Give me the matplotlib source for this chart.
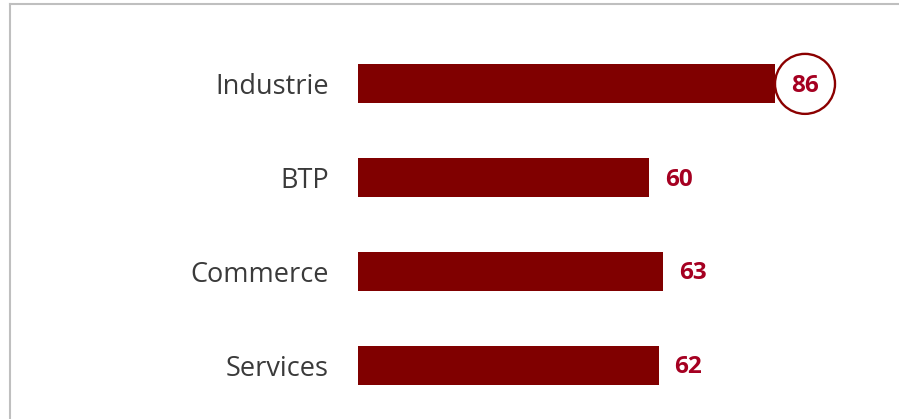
import matplotlib
matplotlib.use("Agg")
import matplotlib.pyplot as plt
import matplotlib.transforms as mtransforms
from matplotlib.patches import Circle
from matplotlib.lines import Line2D

categories = ["Industrie", "BTP", "Commerce", "Services"]
values = [86, 60, 63, 62]
highlight = "Industrie"

W, H = 899, 419
fig = plt.figure(figsize=(W / 100, H / 100), dpi=100)
fig.patch.set_facecolor("white")

# axes in pixel geometry
x0, x1 = 358, 899
y_top, y_bot = 37, 412
ax = fig.add_axes([x0 / W, (H - y_bot) / H, (x1 - x0) / W, (y_bot - y_top) / H])
px_per_unit = 4.849
ax.set_xlim(0, (x1 - x0) / px_per_unit)
ax.set_ylim(len(categories) - 0.5, -0.5)

bar_color = "#800000"
label_color = "#A50021"
ypos = list(range(len(categories)))
ax.barh(ypos, values, height=0.415, color=bar_color)

ax.set_yticks(ypos)
ax.set_yticklabels(categories, fontsize=19.5, color="#3A3A3A", family="Open Sans")
ax.tick_params(axis="y", length=0, pad=21)
ax.set_xticks([])
for s in ax.spines.values():
    s.set_visible(False)
ax.patch.set_alpha(0)

for y, cat, v in zip(ypos, categories, values):
    if cat == highlight:
        r_in = 0.30
        tr = fig.dpi_scale_trans + mtransforms.ScaledTranslation(v, y, ax.transData)
        tr2 = mtransforms.ScaledTranslation(r_in, 0, fig.dpi_scale_trans)
        circ = Circle((0, 0), r_in, transform=tr + tr2, fill=False,
                      edgecolor="#8B0000", linewidth=1.7, clip_on=False)
        ax.add_artist(circ)
        ax.annotate(str(v), xy=(v, y), xytext=(r_in * 72, -1.5), textcoords="offset points",
                    ha="center", va="center", fontsize=17.5, fontweight="bold",
                    color=label_color, family="Open Sans")
    else:
        ax.annotate(str(v), xy=(v, y), xytext=(11.5, -1.5), textcoords="offset points",
                    ha="left", va="center", fontsize=17.5, fontweight="bold",
                    color=label_color, family="Open Sans")

# frame lines (left and top)
border = "#BFBFBF"
fig.add_artist(Line2D([10 / W, 10 / W], [0, 1 - 4 / H], color=border, linewidth=1.5,
                      transform=fig.transFigure))
fig.add_artist(Line2D([10 / W, 1], [1 - 4 / H, 1 - 4 / H], color=border, linewidth=1.5,
                      transform=fig.transFigure))

fig.savefig("out.png", dpi=100)
